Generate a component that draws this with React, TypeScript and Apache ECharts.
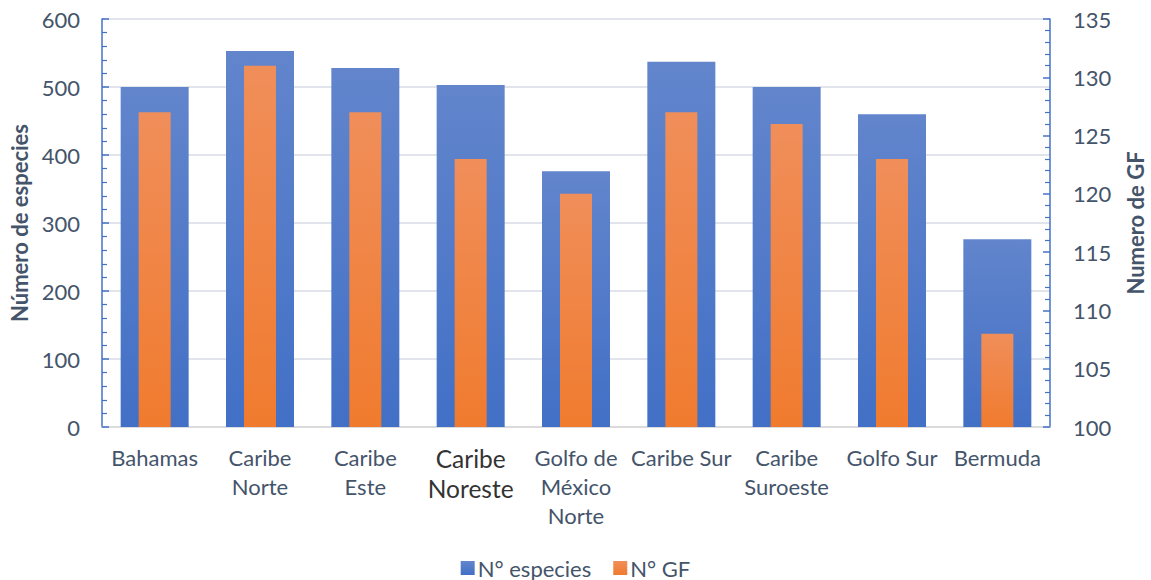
import React, { useEffect, useRef } from "react";
import * as echarts from "echarts";

const categories = [
  "Bahamas",
  "Caribe\nNorte",
  "Caribe\nEste",
  "Caribe\nNoreste",
  "Golfo de\nMéxico\nNorte",
  "Caribe Sur",
  "Caribe\nSuroeste",
  "Golfo Sur",
  "Bermuda",
];
const especies = [500, 553, 528, 503, 376, 537, 500, 460, 276];
const gf = [127, 131, 127, 123, 120, 127, 126, 123, 108];
const leftTicks = { min: 0, max: 600, interval: 100 };
const rightTicks = { min: 100, max: 135, interval: 5 };

const FONT = "Lato";
const TXT = "#44546A";
const BLUE = "#4472C4";

export default function App() {
  const ref = useRef<HTMLDivElement>(null);
  useEffect(() => {
    if (!ref.current) return;
    const chart = echarts.init(ref.current, null, { renderer: "svg" });
    chart.setOption({
      animation: false,
      textStyle: { fontFamily: FONT },
      grid: { left: 102, right: 101, top: 19, bottom: 153, containLabel: false, outerBoundsMode: "none" },
      legend: {
        top: 556,
        left: "center",
        padding: 0,
        itemWidth: 14,
        itemHeight: 14,
        itemGap: 22,
        icon: "rect",
        textStyle: { fontFamily: FONT, fontSize: 22, lineHeight: 24, color: TXT, padding: [0, 0, 0, -2] },
        data: ["N° especies", "N° GF"],
      },
      xAxis: [
        {
          type: "category",
          data: categories,
          axisLine: { lineStyle: { color: "#d9d9d9", width: 1.5 } },
          axisTick: { show: false },
          axisLabel: {
            interval: 0,
            margin: 16,
            fontFamily: FONT,
            fontSize: 22,
            lineHeight: 29,
            color: TXT,
            formatter: (v: string, i: number) => {
              if (i === 3) return v.split("\n").map((l) => `{b|${l}}`).join("\n");
              return v;
            },
            rich: {
              b: { fontFamily: FONT, fontSize: 24.5, lineHeight: 30, color: "#333333" },
            },
          },
        },
        {
          type: "category",
          data: categories,
          show: false,
        },
      ],
      yAxis: [
        {
          type: "value",
          min: leftTicks.min,
          max: leftTicks.max,
          interval: leftTicks.interval,
          name: "Número de especies",
          nameLocation: "middle",
          nameRotate: 90,
          nameGap: 69,
          nameTextStyle: { fontFamily: FONT, fontSize: 22, fontWeight: "bold", color: TXT },
          axisLine: { show: true, lineStyle: { color: BLUE, width: 1.5 } },
          axisTick: { show: true, inside: true, length: 7, lineStyle: { color: BLUE, width: 1.5 } },
          minorTick: { show: true, splitNumber: 5, length: 5, lineStyle: { color: BLUE, width: 1.2 } },
          axisLabel: { margin: 22, fontFamily: FONT, fontSize: 22, color: TXT },
          splitLine: { show: true, lineStyle: { color: "#e1e4ea", width: 2 } },
        },
        {
          type: "value",
          min: rightTicks.min,
          max: rightTicks.max,
          interval: rightTicks.interval,
          position: "right",
          name: "Numero de GF",
          nameLocation: "middle",
          nameRotate: 90,
          nameGap: 74,
          nameTextStyle: { fontFamily: FONT, fontSize: 22, fontWeight: "bold", color: TXT },
          axisLine: { show: true, lineStyle: { color: BLUE, width: 1.5 } },
          axisTick: { show: true, inside: true, length: 7, lineStyle: { color: BLUE, width: 1.5 } },
          minorTick: { show: true, splitNumber: 5, length: 5, lineStyle: { color: BLUE, width: 1.2 } },
          axisLabel: { margin: 23, fontFamily: FONT, fontSize: 22, color: TXT },
          splitLine: { show: false },
        },
      ],
      series: [
        {
          name: "N° especies",
          type: "bar",
          xAxisIndex: 0,
          yAxisIndex: 0,
          barWidth: 68,
          data: especies,
          itemStyle: {
            color: new echarts.graphic.LinearGradient(0, 0, 0, 1, [
              { offset: 0, color: "#6285cc" },
              { offset: 1, color: "#4270c6" },
            ]),
          },
        },
        {
          name: "N° GF",
          type: "bar",
          xAxisIndex: 1,
          yAxisIndex: 1,
          barWidth: 32,
          data: gf,
          itemStyle: {
            color: new echarts.graphic.LinearGradient(0, 0, 0, 1, [
              { offset: 0, color: "#f08e5a" },
              { offset: 1, color: "#f07b2e" },
            ]),
          },
        },
      ],
    });
    return () => chart.dispose();
  }, []);
  return <div ref={ref} style={{ width: 1151, height: 580, position: "absolute", left: 0, top: 0 }} />;
}
